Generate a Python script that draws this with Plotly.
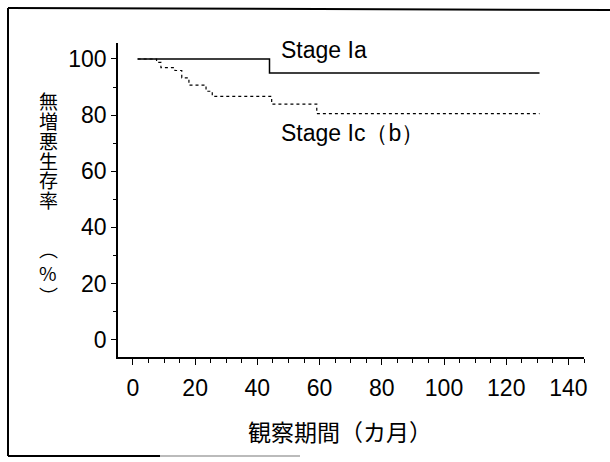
import plotly.graph_objects as go

# Kaplan-Meier progression-free survival estimates (months, %)
ia_months = [1.5, 43.9, 130.7]
ia_surv = [100, 95.0, 95.0]

icb_months = [1.5, 7.6, 9.0, 13.5, 15.7, 18.0, 23.5, 25.5, 44.6, 59.1, 130.7]
icb_surv = [100, 98.8, 96.9, 95.9, 93.3, 90.7, 88.5, 86.7, 83.9, 80.5, 80.5]

x_ticks = [0, 20, 40, 60, 80, 100, 120, 140]
y_ticks = [0, 20, 40, 60, 80, 100]

ia_label = "Stage Ia"
icb_label = "Stage Ic（b）"
x_title = "観察期間（カ月）"
y_title_chars = ["無", "増", "悪", "生", "存", "率"]
y_unit_chars = ["︵", "%", "︶"]

W, H = 610, 462
L, R, T, B = 118, 26, 43, 105
PW, PH = W - L - R, H - T - B

LATIN = "Liberation Sans, Arial, sans-serif"
CJK = "Noto Sans CJK JP, sans-serif"


def px_to_paper(px, py):
    return (px - L) / PW, (H - B - py) / PH


fig = go.Figure()
fig.add_trace(go.Scatter(x=ia_months, y=ia_surv, mode="lines", line_shape="hv",
                         line=dict(color="black", width=1.5), showlegend=False))
fig.add_trace(go.Scatter(x=icb_months, y=icb_surv, mode="lines", line_shape="hv",
                         line=dict(color="black", width=1.2, dash="dot"), showlegend=False))

annotations = [
    dict(x=47.0, y=103.2, xref="x", yref="y", text=ia_label, showarrow=False,
         xanchor="left", yanchor="middle", font=dict(family=LATIN, size=23, color="black")),
    dict(x=47.0, y=73.8, xref="x", yref="y", text=icb_label, showarrow=False,
         xanchor="left", yanchor="middle", font=dict(family=LATIN, size=23, color="black")),
]

# x-axis title
ax, ay = px_to_paper(340, 431)
annotations.append(dict(x=ax, y=ay, xref="paper", yref="paper", text=x_title, showarrow=False,
                        xanchor="center", yanchor="middle", font=dict(family=CJK, size=23, color="black")))

# vertical y-axis title: one character per row, top to bottom
for i, ch in enumerate(y_title_chars):
    cx, cy = px_to_paper(48, 101 + i * 19.7)
    annotations.append(dict(x=cx, y=cy, xref="paper", yref="paper", text=ch, showarrow=False,
                            xanchor="center", yanchor="middle", font=dict(family=CJK, size=19, color="black")))
for ch, py in zip(y_unit_chars, [248, 272, 295]):
    cx, cy = px_to_paper(48, py)
    annotations.append(dict(x=cx, y=cy, xref="paper", yref="paper", text=ch, showarrow=False,
                            xanchor="center", yanchor="middle", font=dict(family=CJK, size=19, color="black")))

# outer frame
shapes = []
for (x0, y0, x1, y1, col) in [(8, 8, 610, 10, "black"), (8, 8, 8, 456, "black"),
                              (8, 456, 160, 456, "black"), (160, 456, 300, 456, "#bbbbbb")]:
    p0 = px_to_paper(x0, y0)
    p1 = px_to_paper(x1, y1)
    shapes.append(dict(type="line", xref="paper", yref="paper", x0=p0[0], y0=p0[1],
                       x1=p1[0], y1=p1[1], line=dict(color=col, width=2)))

fig.update_layout(
    width=W, height=H, margin=dict(l=L, r=R, t=T, b=B, pad=0),
    paper_bgcolor="white", plot_bgcolor="white",
    annotations=annotations, shapes=shapes,
    xaxis=dict(range=[-4.8, 145.0], tickvals=x_ticks, ticks="outside", ticklen=6, tickwidth=1.2,
               tickcolor="black", showline=True, linecolor="black", linewidth=1.5, showgrid=False,
               zeroline=False, ticklabelstandoff=4,
               minor=dict(dtick=5, ticks="outside", ticklen=4, tickcolor="black", tickwidth=1),
               tickfont=dict(family=LATIN, size=23, color="black")),
    yaxis=dict(range=[-6.2, 105.7], tickvals=y_ticks, ticks="outside", ticklen=5, tickwidth=1.2,
               tickcolor="black", showline=True, linecolor="black", linewidth=1.5, showgrid=False,
               zeroline=False, ticklabelstandoff=0,
               minor=dict(dtick=10, ticks="outside", ticklen=3, tickcolor="black", tickwidth=1),
               tickfont=dict(family=LATIN, size=23, color="black")),
)

fig.write_html("out.html")
